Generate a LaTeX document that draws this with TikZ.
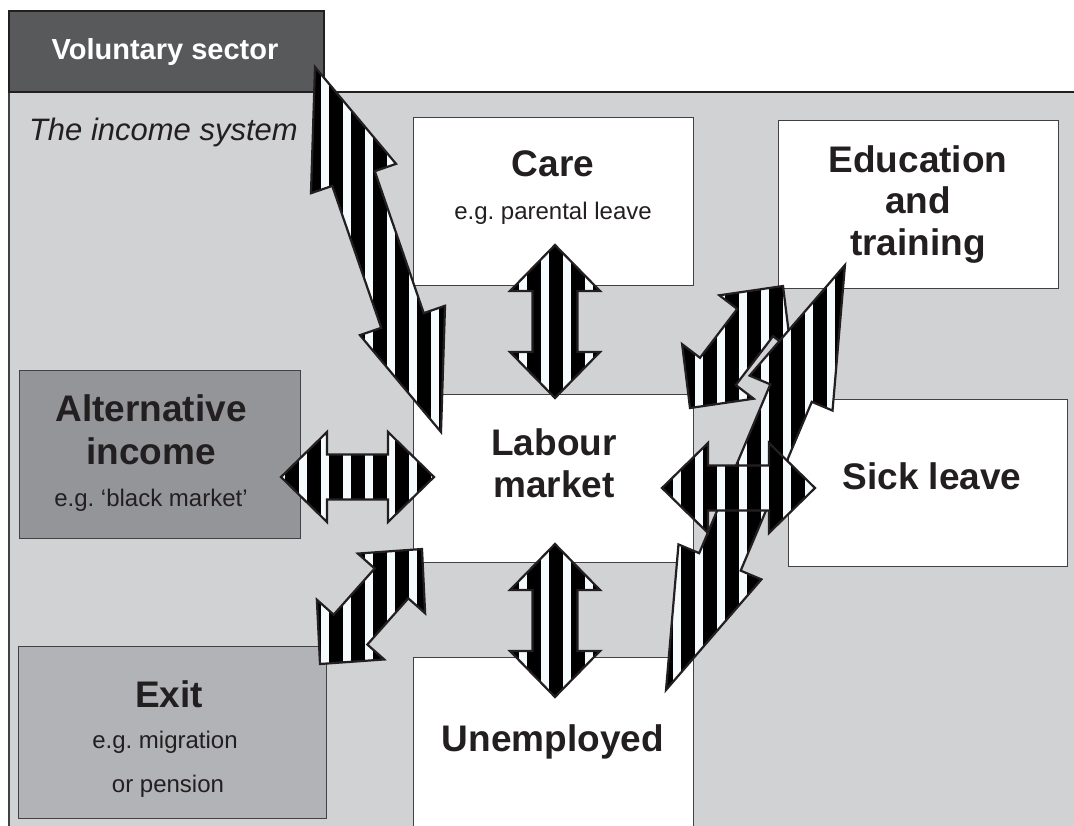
\documentclass[tikz,border=0pt]{standalone}
\usepackage{fontspec}
\setmainfont{Liberation Sans}
\usetikzlibrary{positioning,calc}
\definecolor{ink}{HTML}{231F20}
\definecolor{incomegray}{HTML}{D1D2D4}
\definecolor{voldark}{HTML}{58595B}
\definecolor{altgray}{HTML}{939598}
\definecolor{exitgray}{HTML}{B1B3B6}
\definecolor{boxline}{HTML}{414042}
\definecolor{stripewhite}{HTML}{F5FAFD}

\begin{document}
\begin{tikzpicture}[x=1pt,y=-1pt]
  \tikzstyle{every node}=[inner sep=0,outer sep=0]
  \tikzstyle{box}=[rectangle,draw=boxline,line width=1pt,fill=white,anchor=north west,minimum width=280,minimum height=168]
  \tikzstyle{title}=[text=ink,font=\fontsize{37}{42}\selectfont\bfseries,anchor=base]
  \tikzstyle{note}=[text=ink,font=\fontsize{24}{28}\selectfont,anchor=base]
  \tikzstyle{stripedarrow}=[draw=ink,line width=2.2pt,fill=stripewhite,
      path picture={\foreach \k in {0,...,48} \fill[black] ({21+22*\k},0) rectangle +(14,830);}]

  \useasboundingbox (0,0) rectangle (1074,825);
  \fill[incomegray] (9,92) rectangle (1080,830);
  \draw[ink,line width=2pt] (1080,92) -- (9,92);
  \draw[boxline,line width=1.5pt] (9,92) -- (9,830);

  \node[box,fill=voldark,draw=ink,line width=1.5pt,minimum width=315,minimum height=81] (vol) at (9,11) {};
  \node[box] (care) at (413,117) {};
  \node[box] (edu) at (778,120) {};
  \node[box] (labour) at (413,394) {};
  \node[box,minimum width=279,minimum height=167] (sick) at (788,399) {};
  \node[box,fill=altgray,minimum width=281] (alt) at (19,370) {};
  \node[box,fill=exitgray,minimum width=308,minimum height=172] (exit) at (18,646) {};
  \node[box,minimum height=190] (unemp) at (413,657) {};

  \node[title,text=white,font=\fontsize{29}{33}\selectfont\bfseries] (voltext) at (165,59) {Voluntary sector};
  \node[text=ink,font=\fontsize{31}{36}\selectfont\itshape,anchor=base west] (systext) at (29,140) {The income system};

  \node[title] (caretext) at (553,176) {Care};
  \node[note] (carenote) at (553,219) {e.g.\ parental leave};

  \node[title] (edutext1) at (918,172) {Education};
  \node[title] (edutext2) at (918,213) {and};
  \node[title] (edutext3) at (918,255) {training};

  \node[title] (labtext1) at (554,455) {Labour};
  \node[title] (labtext2) at (554,497) {market};

  \node[title] (sicktext) at (932,489) {Sick leave};

  \node[title] (alttext1) at (151,421) {Alternative};
  \node[title] (alttext2) at (151,464) {income};
  \node[note] (altnote) at (151,506) {e.g.\ ‘black market’};

  \node[title] (exittext) at (169,707) {Exit};
  \node[note] (exitnote1) at (165,748) {e.g.\ migration};
  \node[note] (exitnote2) at (168,792) {or pension};

  \node[title] (unemptext) at (553,751) {Unemployed};

  \coordinate (volA) at (315,67);    \coordinate (volB) at (441,432);
  \coordinate (careA) at (555,245);  \coordinate (careB) at (555,398);
  \coordinate (unempA) at (555,544); \coordinate (unempB) at (555,697);
  \coordinate (altA) at (281,477);   \coordinate (altB) at (434,477);
  \coordinate (exitA) at (320,664);  \coordinate (exitB) at (422,549);
  \coordinate (eduA) at (690,408);   \coordinate (eduB) at (783,286);
  \coordinate (longA) at (666,690);  \coordinate (longB) at (845,265);
  \coordinate (sickA) at (662,488);  \coordinate (sickB) at (815,488);

  \foreach \p/\q/\hl in {volA/volB/118pt,careA/careB/46pt,unempA/unempB/46pt,altA/altB/46pt,
                          exitA/exitB/46pt,eduA/eduB/46pt,longA/longB/139pt,sickA/sickB/46pt}
    \draw[stripedarrow] (\p)
      -- ($(\p)!\hl!(\q)!45pt!90:(\q)$) -- ($(\p)!\hl!(\q)!22.5pt!90:(\q)$)
      -- ($(\q)!\hl!(\p)!22.5pt!-90:(\p)$) -- ($(\q)!\hl!(\p)!45pt!-90:(\p)$)
      -- (\q)
      -- ($(\q)!\hl!(\p)!45pt!90:(\p)$) -- ($(\q)!\hl!(\p)!22.5pt!90:(\p)$)
      -- ($(\p)!\hl!(\q)!22.5pt!-90:(\q)$) -- ($(\p)!\hl!(\q)!45pt!-90:(\q)$)
      -- cycle;
\end{tikzpicture}
\end{document}
